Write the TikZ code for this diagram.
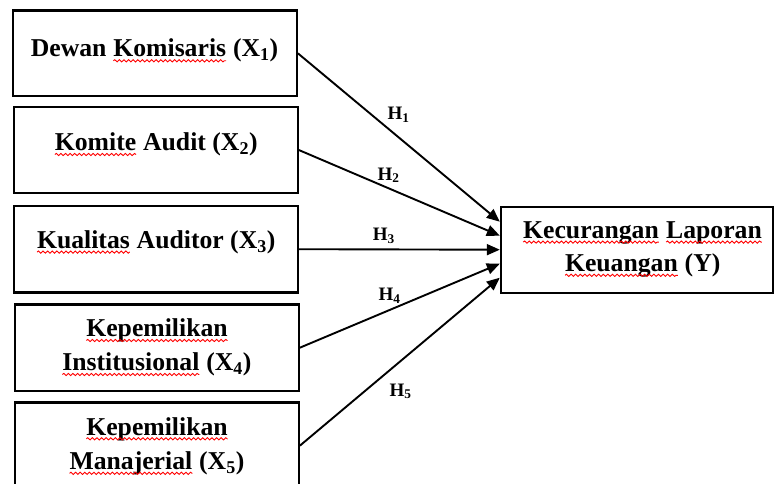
\documentclass[tikz,border=0pt]{standalone}
\usepackage{fontspec}
\setmainfont{Liberation Serif}
\usetikzlibrary{arrows.meta,decorations.pathmorphing}
\newcommand\sq[1]{\tikz[baseline=(w.base)]{\node[inner sep=0pt,outer sep=0pt,anchor=base,draw=none](w){#1};\draw[draw=red,line width=0.9pt,decorate,decoration={snake,amplitude=1.1pt,segment length=4.6pt}]([yshift=-3.8pt]w.base west)--([yshift=-3.8pt]w.base east);}}
\tikzset{
  box/.style={draw=black,line width=2.3pt,rectangle,inner sep=0pt},
  lbl/.style={font=\fontsize{25.7}{34}\selectfont\bfseries,anchor=base,inner sep=0pt},
  hl/.style={font=\fontsize{19}{22}\selectfont\bfseries,anchor=base west,inner sep=0pt},
  conn/.style={line width=1.9pt,-{Triangle[length=13pt,width=11pt]}}
}
\begin{document}
\begin{tikzpicture}[x=1pt,y=-1pt]
\useasboundingbox (0,0) rectangle (774,484);
% boxes
\node[box,minimum width=284pt,minimum height=85.3pt] (b1) at (154.7,53.3) {};
\node[box,minimum width=283.7pt,minimum height=86.6pt] (b2) at (155.8,150) {};
\node[box,minimum width=283.7pt,minimum height=86.3pt] (b3) at (155.8,249.2) {};
\node[box,minimum width=283.4pt,minimum height=86.7pt] (b4) at (157,347.7) {};
\node[box,minimum width=283.4pt,minimum height=86.7pt] (b5) at (157,445.7) {};
\node[box,minimum width=271.7pt,minimum height=86pt] (y) at (636.8,249.7) {};
% texts
\node[lbl] (t1) at (154.5,57) {Dewan \sq{Komisaris} (X\textsubscript{1})};
\node[lbl] (t2) at (156,150.7) {\sq{Komite} Audit (X\textsubscript{2})};
\node[lbl] (t3) at (156,248.3) {\sq{Kualitas} Auditor (X\textsubscript{3})};
\node[lbl] (t4a) at (157,336.7) {\sq{Kepemilikan}};
\node[lbl] (t4b) at (156.7,370.7) {\sq{Institusional} (X\textsubscript{4})};
\node[lbl] (t5a) at (157,435) {\sq{Kepemilikan}};
\node[lbl] (t5b) at (156.7,469.5) {\sq{Manajerial} (X\textsubscript{5})};
\node[lbl] (ty1) at (642.5,238.3) {\sq{Kecurangan} \sq{Laporan}};
\node[lbl] (ty2) at (642.5,271.5) {\sq{Keuangan} (Y)};
% connectors
\draw[conn] (b1.east) -- ([yshift=28pt]y.west);
\draw[conn] (b2.east) -- ([yshift=14pt]y.west);
\draw[conn] (b3.east) -- (y.west);
\draw[conn] (b4.east) -- ([yshift=-14pt]y.west);
\draw[conn] (b5.east) -- ([yshift=-28pt]y.west);
% hypothesis labels
\node[hl] (h1) at (387.5,120) {H\textsubscript{1}};
\node[hl] (h2) at (377.3,180) {H\textsubscript{2}};
\node[hl] (h3) at (372.7,240.7) {H\textsubscript{3}};
\node[hl] (h4) at (378.3,300.7) {H\textsubscript{4}};
\node[hl] (h5) at (389.3,396) {H\textsubscript{5}};
\end{tikzpicture}
\end{document}
